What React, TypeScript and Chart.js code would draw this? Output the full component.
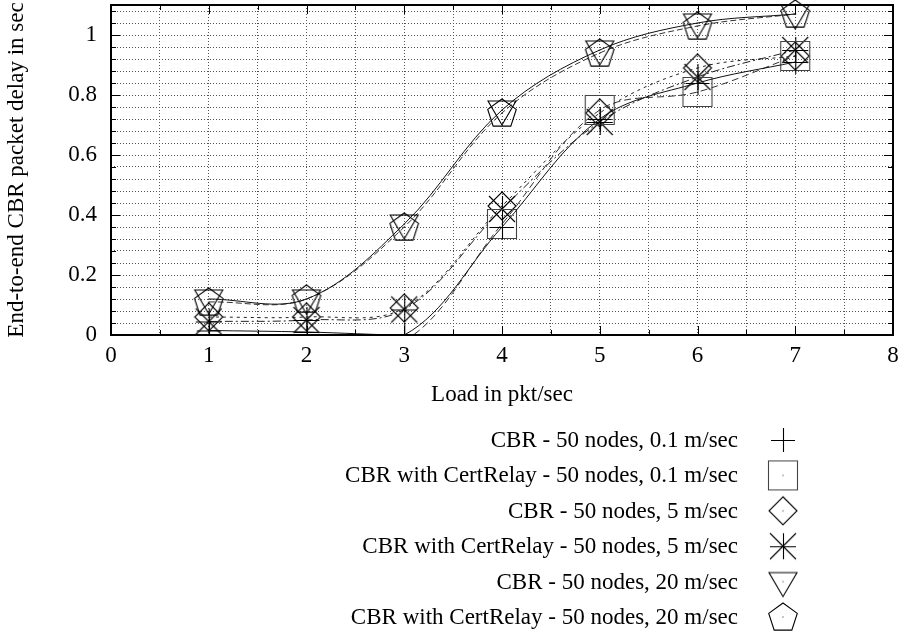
import React, { useEffect, useRef } from "react";
import { Chart, registerables } from "chart.js";

Chart.register(...registerables);

const loads = [1, 2, 3, 4, 5, 6, 7];
const seriesLabels = [
  "CBR - 50 nodes, 0.1 m/sec",
  "CBR with CertRelay - 50 nodes, 0.1 m/sec",
  "CBR - 50 nodes, 5 m/sec",
  "CBR with CertRelay - 50 nodes, 5 m/sec",
  "CBR - 50 nodes, 20 m/sec",
  "CBR with CertRelay - 50 nodes, 20 m/sec",
];
const cbr01 = [0.015, 0.01, 0.0, 0.36, 0.72, 0.84, 0.91];
const cert01 = [-0.01, -0.015, -0.02, 0.37, 0.75, 0.81, 0.93];
const cbr5 = [0.06, 0.06, 0.09, 0.43, 0.74, 0.89, 0.93];
const cert5 = [0.045, 0.05, 0.085, 0.42, 0.71, 0.86, 0.95];
const cbr20 = [0.12, 0.12, 0.37, 0.75, 0.95, 1.04, 1.07];
const cert20 = [0.11, 0.12, 0.36, 0.74, 0.94, 1.03, 1.07];
const yTickLabels = ["0", "0.2", "0.4", "0.6", "0.8", "1"];
const xTickLabels = ["0", "1", "2", "3", "4", "5", "6", "7", "8"];

const SERIF = '"Liberation Serif", "DejaVu Serif", serif';

function makeMarker(kind: string): HTMLCanvasElement {
  const s = 40;
  const c = s / 2;
  const cv = document.createElement("canvas");
  cv.width = s;
  cv.height = s;
  const g = cv.getContext("2d")!;
  g.lineWidth = 1.1;
  g.strokeStyle = "#000";
  g.beginPath();
  const dot = () => {
    g.fillStyle = "#222";
    g.fillRect(c - 0.5, c - 0.5, 1, 1);
  };
  if (kind === "plus") {
    g.moveTo(c - 12, c + 0.5); g.lineTo(c + 12, c + 0.5);
    g.moveTo(c + 0.5, c - 12); g.lineTo(c + 0.5, c + 12);
    g.stroke();
  } else if (kind === "square") {
    g.strokeStyle = "#444";
    g.rect(c - 14.5, c - 14.5, 29, 29);
    g.stroke();
    dot();
  } else if (kind === "diamond") {
    g.moveTo(c, c - 14); g.lineTo(c + 14, c); g.lineTo(c, c + 14); g.lineTo(c - 14, c); g.closePath();
    g.stroke();
    dot();
  } else if (kind === "star") {
    g.moveTo(c - 13, c + 0.5); g.lineTo(c + 13, c + 0.5);
    g.moveTo(c + 0.5, c - 13); g.lineTo(c + 0.5, c + 13);
    g.moveTo(c - 13, c - 13); g.lineTo(c + 13, c + 13);
    g.moveTo(c - 13, c + 13); g.lineTo(c + 13, c - 13);
    g.stroke();
  } else if (kind === "triangle") {
    g.moveTo(c - 14, c - 9); g.lineTo(c + 14, c - 9); g.lineTo(c, c + 15); g.closePath();
    g.stroke();
    dot();
  } else if (kind === "pentagon") {
    const r = 15;
    for (let i = 0; i < 5; i++) {
      const a = -Math.PI / 2 + (i * 2 * Math.PI) / 5;
      const px = c + r * Math.cos(a);
      const py = c + 1 + r * Math.sin(a);
      if (i === 0) g.moveTo(px, py); else g.lineTo(px, py);
    }
    g.closePath();
    g.stroke();
    dot();
  }
  return cv;
}

export default function App() {
  const ref = useRef<HTMLCanvasElement>(null);
  useEffect(() => {
    document.body.style.margin = "0";
    const markers = ["plus", "square", "diamond", "star", "triangle", "pentagon"].map(makeMarker);
    const values = [cbr01, cert01, cbr5, cert5, cbr20, cert20];
    const colors = ["#111", "#333", "#222", "#222", "#111", "#333"];
    const dashes: number[][] = [[], [7, 4], [3, 4], [8, 3, 2, 3], [], [6, 3]];

    const frame = {
      id: "gnuframe",
      afterDatasetsDraw(chart: any) {
        const { ctx, chartArea: a, scales } = chart;
        const xs = scales.x, ys = scales.y;
        ctx.save();
        ctx.strokeStyle = "#000";
        ctx.lineWidth = 1;
        for (let i = 0; i <= 27; i++) {
          const v = i * 0.04;
          const py = Math.round(ys.getPixelForValue(v)) + 0.5;
          const major = i % 5 === 0;
          const len = major ? 9 : 5;
          ctx.beginPath();
          ctx.moveTo(a.left, py); ctx.lineTo(a.left + len, py);
          ctx.moveTo(a.right, py); ctx.lineTo(a.right - len, py);
          ctx.stroke();
        }
        for (let i = 0; i <= 16; i++) {
          const v = i * 0.5;
          const px = Math.round(xs.getPixelForValue(v)) + 0.5;
          const major = i % 2 === 0;
          const len = major ? 9 : 5;
          ctx.beginPath();
          ctx.moveTo(px, a.bottom); ctx.lineTo(px, a.bottom - len);
          ctx.moveTo(px, a.top); ctx.lineTo(px, a.top + len);
          ctx.stroke();
        }
        ctx.lineWidth = 2;
        ctx.strokeRect(a.left, a.top, a.right - a.left, a.bottom - a.top);
        ctx.restore();
      },
      afterDraw(chart: any) {
        const { ctx } = chart;
        ctx.save();
        ctx.font = `23px ${SERIF}`;
        ctx.fillStyle = "#000";
        ctx.textAlign = "right";
        ctx.textBaseline = "middle";
        seriesLabels.forEach((lab, i) => {
          const y = 440 + i * 35.4;
          ctx.fillText(lab, 738, y + 1);
          const m = markers[i];
          ctx.drawImage(m, 783 - m.width / 2, y - m.height / 2);
        });
        ctx.restore();
      },
    };

    const chart = new Chart(ref.current!, {
      type: "line",
      data: {
        datasets: values.map((vals, i) => ({
          label: seriesLabels[i],
          data: loads.map((x, j) => ({ x, y: vals[j] })),
          borderColor: colors[i],
          borderWidth: 1,
          borderDash: dashes[i],
          tension: 0.35,
          pointStyle: markers[i] as any,
          pointRadius: (c: any) => (c.raw && c.raw.y < 0 ? 0 : 14),
          fill: false,
          clip: { left: 20, top: 20, right: 20, bottom: 0 } as any,
        })),
      },
      options: {
        animation: false,
        responsive: false,
        maintainAspectRatio: false,
        layout: { autoPadding: false, padding: { left: 0, top: 5, right: 12, bottom: 221 } },
        plugins: { legend: { display: false }, tooltip: { enabled: false } },
        scales: {
          x: {
            type: "linear",
            min: 0,
            max: 8,
            afterBuildTicks: (axis: any) => {
              const t = [];
              for (let i = 0; i <= 16; i++) t.push({ value: i * 0.5 });
              axis.ticks = t;
            },
            afterFit: (axis: any) => {
              axis.height = 76;
              axis.paddingLeft = 0;
              axis.paddingRight = 0;
            },
            ticks: {
              autoSkip: false,
              maxRotation: 0,
              padding: 7,
              color: "#000",
              font: { family: SERIF, size: 23 },
              callback: (v: any) => {
                const n = Number(v);
                return Math.abs(n - Math.round(n)) < 1e-6 ? xTickLabels[Math.round(n)] : "";
              },
            },
            grid: { color: "#555", drawTicks: false, lineWidth: 1 },
            border: { display: false, dash: [1, 2] },
            title: {
              display: true,
              text: "Load in pkt/sec",
              color: "#000",
              font: { family: SERIF, size: 23 },
              padding: { top: 4, bottom: 2 },
            },
          },
          y: {
            type: "linear",
            min: 0,
            max: 1.1,
            afterBuildTicks: (axis: any) => {
              const t = [];
              for (let i = 0; i <= 27; i++) t.push({ value: i * 0.04 });
              axis.ticks = t;
            },
            afterFit: (axis: any) => {
              axis.width = 111;
              axis.paddingTop = 0;
              axis.paddingBottom = 0;
            },
            ticks: {
              autoSkip: false,
              padding: 14,
              color: "#000",
              font: { family: SERIF, size: 23, lineHeight: 0.3 },
              callback: (v: any) => {
                const n = Number(v) / 0.2;
                return Math.abs(n - Math.round(n)) < 1e-6 ? yTickLabels[Math.round(n)] : "";
              },
            },
            grid: { color: "#555", drawTicks: false, lineWidth: 1 },
            border: { display: false, dash: [1, 2] },
            title: {
              display: true,
              text: "End-to-end CBR packet delay in sec",
              color: "#000",
              font: { family: SERIF, size: 23 },
              padding: { top: 3, bottom: 4 },
            },
          },
        },
      },
      plugins: [frame],
    });
    return () => chart.destroy();
  }, []);
  return (
    <div style={{ position: "fixed", left: 0, top: 0, width: 905, height: 632, background: "#fff" }}>
      <canvas ref={ref} width={905} height={632} style={{ width: 905, height: 632 }} />
    </div>
  );
}
